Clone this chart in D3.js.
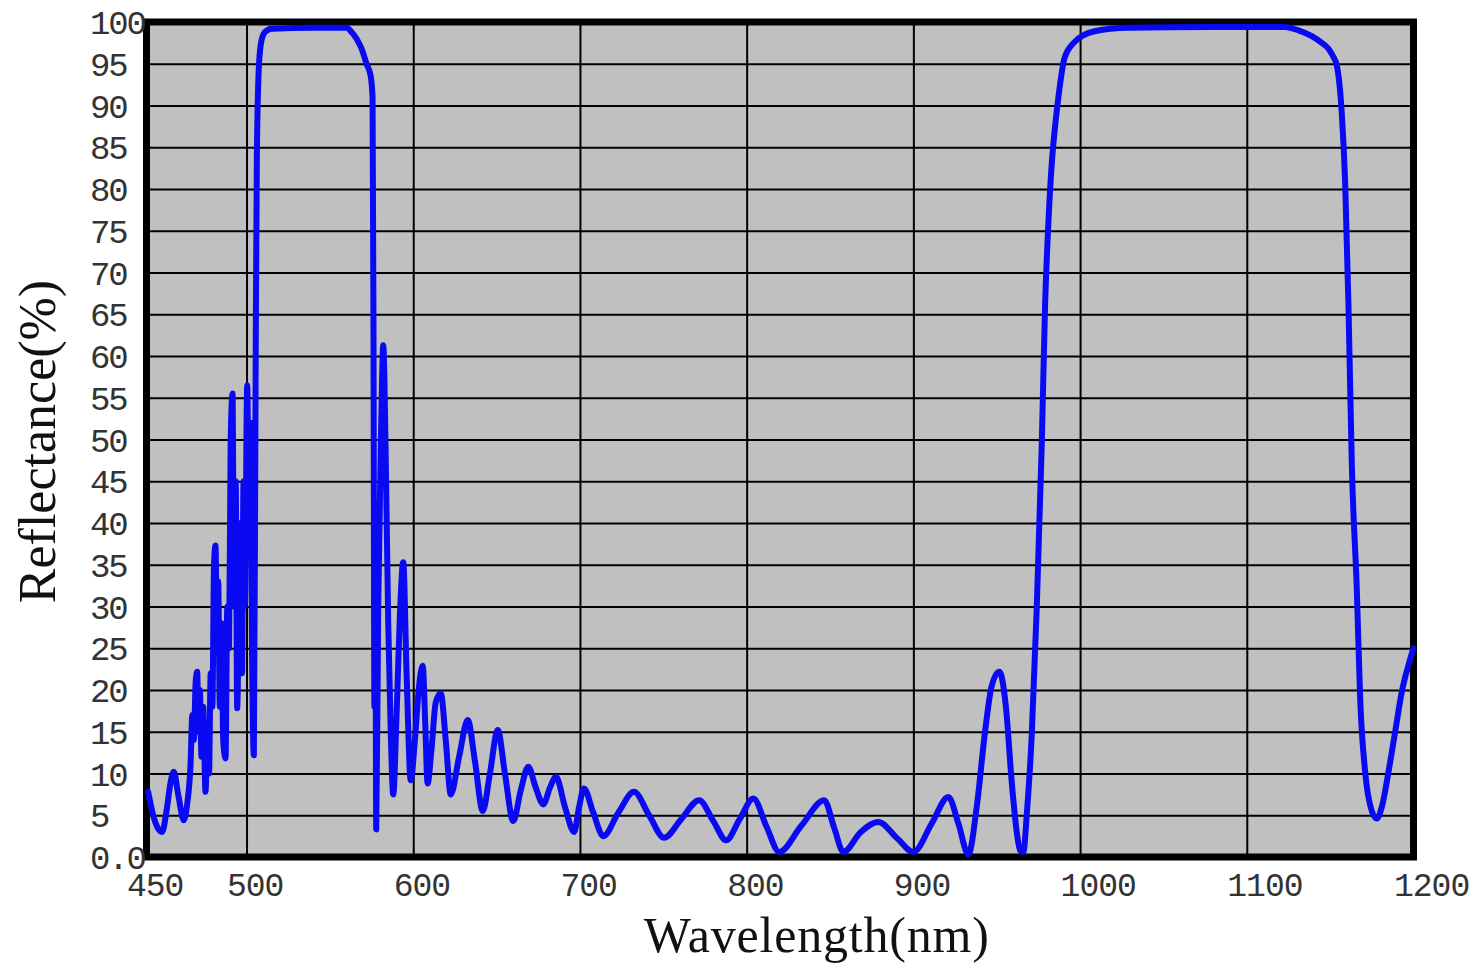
<!DOCTYPE html>
<html>
<head>
<meta charset="utf-8">
<title>Reflectance spectrum</title>
<script src="https://cdn.jsdelivr.net/npm/d3@7"></script>
<style>
  html, body { margin: 0; padding: 0; background: #ffffff; }
  svg { display: block; }
</style>
</head>
<body>
<svg id="chart" width="1476" height="967"></svg>
<script>
// Measured reflectance spectrum: wavelength (nm) and reflectance (%)
const wavelength = [
  441, 444, 447, 449.4, 452, 454.5, 456.4, 459, 462.4, 464.5, 466.4, 467.5, 468.4, 469.5, 470.4, 471.2,
  472, 473, 474, 475.4, 476.5, 477.5, 478.5, 479.5, 480.5, 481.4, 482.3, 483, 484, 485, 486, 487.4,
  488.5, 489.5, 490.5, 491.6, 492.5, 493.5, 494.4, 495.5, 496.5, 497.3, 498.2, 499, 500.4, 501.5, 502.5, 503.3,
  504.4, 505.5, 506.2, 507.5, 509, 511, 515, 540, 560, 563, 566, 569, 572, 574.5, 575.6, 576.2,
  576.7, 577.2, 577.8, 579, 580.8, 582, 583.5, 585, 586.5, 588, 590, 592, 594, 596, 598.5, 601,
  603.5, 605.7, 607.2, 608.6, 611, 613.5, 616.5, 619.5, 622.5, 627.5, 632.7, 637, 641.7, 646, 650.7, 655,
  660, 664.5, 669, 673.5, 678, 682, 685.6, 691, 696.5, 699.5, 702.4, 708, 714, 723, 732.4, 741.5,
  750.5, 761, 771.5, 780, 787.7, 796, 804, 812, 819.5, 833, 846.5, 852.5, 858, 868.5, 879, 890,
  900, 911, 921, 927, 933, 938, 943, 947, 951.6, 955.5, 959, 962, 964, 966, 968, 971,
  974, 977, 979, 981, 983, 985, 987, 990.7, 996.7, 1008.7, 1029, 1080, 1123, 1131, 1139, 1145,
  1149, 1152, 1154, 1157, 1159, 1161, 1163, 1166, 1168, 1171, 1175, 1178, 1181, 1185, 1189, 1193,
  1197, 1200
];
const reflectance = [
  7.8, 5.0, 3.4, 3.0, 5.5, 9.0, 10.2, 7.5, 4.4, 6.5, 11.0, 17.0, 14.0, 21.0, 22.2, 15.0,
  20.0, 12.0, 18.0, 7.8, 14.0, 10.0, 22.0, 18.0, 35.0, 37.3, 25.0, 33.0, 18.0, 28.0, 14.0, 11.8,
  30.0, 25.0, 50.0, 55.5, 30.0, 45.0, 17.8, 32.0, 40.0, 22.0, 45.0, 30.0, 56.5, 40.0, 52.0, 25.0,
  12.2, 60.0, 84.0, 95.0, 97.8, 98.8, 99.2, 99.3, 99.3, 98.8, 98.0, 96.8, 95.0, 93.5, 91.0, 60.0,
  18.0, 40.0, 3.3, 30.0, 52.0, 61.3, 48.0, 28.0, 15.0, 7.5, 17.0, 29.0, 35.3, 22.0, 9.2, 14.0,
  20.5, 22.9, 16.0, 8.8, 13.0, 18.5, 19.6, 14.0, 7.5, 12.0, 16.4, 11.5, 5.5, 10.0, 15.2, 10.0,
  4.3, 8.0, 10.8, 8.3, 6.3, 8.3, 9.6, 6.0, 3.0, 6.0, 8.2, 5.3, 2.5, 5.3, 7.8, 5.0,
  2.3, 4.6, 6.8, 4.3, 2.0, 4.6, 7.0, 3.6, 0.6, 3.8, 6.8, 3.5, 0.6, 3.0, 4.2, 2.3,
  0.6, 4.0, 7.2, 4.0, 0.3, 6.0, 15.0, 20.5, 22.2, 18.0, 9.0, 3.0, 0.8, 0.6, 5.0, 14.6,
  29.8, 49.3, 66.0, 76.0, 83.0, 87.5, 91.0, 95.7, 97.6, 98.9, 99.3, 99.4, 99.4, 99.0, 98.3, 97.5,
  96.8, 95.8, 94.8, 89.0, 80.8, 66.0, 47.0, 32.0, 19.0, 10.2, 5.5, 4.6, 6.0, 10.2, 15.0, 19.8,
  23.0, 25.0
];

// Axis ticks
const xTickValues = [500, 600, 700, 800, 900, 1000, 1100, 1200];
const xEdgeLabel = "450";          // label printed at the left edge of the wavelength axis
const yTickValues = d3.range(0, 101, 5);
const xTitle = "Wavelength(nm)";
const yTitle = "Reflectance(%)";

const svg = d3.select("#chart");
const W = 1476, H = 967;
const plot = { left: 146.5, right: 1413.5, top: 22, bottom: 857 };

const x = d3.scaleLinear().domain([440, 1200]).range([plot.left, plot.right]);
const y = d3.scaleLinear().domain([0, 100]).range([plot.bottom, plot.top]);

svg.append("rect").attr("width", W).attr("height", H).attr("fill", "#ffffff");

// plot background
svg.append("rect")
  .attr("x", plot.left).attr("y", plot.top)
  .attr("width", plot.right - plot.left).attr("height", plot.bottom - plot.top)
  .attr("fill", "#c0c0c0");

// grid lines
const gridY = svg.append("g")
  .attr("transform", `translate(${plot.left},0)`)
  .call(d3.axisLeft(y).tickValues(yTickValues.filter(v => v > 0 && v < 100))
    .tickSize(-(plot.right - plot.left)).tickFormat(""));
gridY.select(".domain").remove();
gridY.selectAll(".tick line").attr("stroke", "#000").attr("stroke-width", 2);

const gridX = svg.append("g")
  .attr("transform", `translate(0,${plot.bottom})`)
  .call(d3.axisBottom(x).tickValues(xTickValues.filter(v => v < 1200))
    .tickSize(-(plot.bottom - plot.top)).tickFormat(""));
gridX.select(".domain").remove();
gridX.selectAll(".tick line").attr("stroke", "#000").attr("stroke-width", 2);

// frame
svg.append("rect")
  .attr("x", plot.left).attr("y", plot.top)
  .attr("width", plot.right - plot.left).attr("height", plot.bottom - plot.top)
  .attr("fill", "none").attr("stroke", "#000").attr("stroke-width", 7);

// spectrum curve
const points = wavelength.map((w, i) => [w, reflectance[i]]);
const line = d3.line()
  .x(d => x(d[0]))
  .y(d => y(d[1]))
  .curve(d3.curveMonotoneX);

svg.append("path")
  .datum(points)
  .attr("d", line)
  .attr("fill", "none")
  .attr("stroke", "#0a0af2")
  .attr("stroke-width", 6)
  .attr("stroke-linejoin", "round")
  .attr("stroke-linecap", "round");

// tick labels
const tickFont = "'Liberation Mono', 'DejaVu Sans Mono', monospace";

const yLab = svg.append("g")
  .attr("transform", "translate(90,0)")
  .call(d3.axisLeft(y).tickValues(yTickValues).tickSize(0).tickPadding(0)
    .tickFormat(v => v === 0 ? "0.0" : String(v)));
yLab.select(".domain").remove();
yLab.selectAll("text")
  .attr("x", 0).attr("dy", "0.34em")
  .attr("text-anchor", "start")
  .attr("font-family", tickFont).attr("font-size", 34)
  .attr("letter-spacing", -2.2)
  .attr("fill", "#333");

const xLabels = [{ text: xEdgeLabel, pos: x.range()[0] }]
  .concat(xTickValues.map(v => ({ text: String(v), pos: x(v) })));

svg.append("g").selectAll("text")
  .data(xLabels)
  .join("text")
  .attr("x", d => d.pos - 19.5)
  .attr("y", 896)
  .attr("text-anchor", "start")
  .attr("font-family", tickFont).attr("font-size", 33)
  .attr("letter-spacing", -1.0)
  .attr("fill", "#333")
  .text(d => d.text);

// axis titles
const titleFont = "'Liberation Serif', 'Times New Roman', serif";
svg.append("text")
  .attr("x", plot.left + (plot.right - plot.left) * 0.529)
  .attr("y", 952)
  .attr("text-anchor", "middle")
  .attr("font-family", titleFont).attr("font-size", 50)
  .attr("letter-spacing", 0.8)
  .attr("fill", "#111")
  .text(xTitle);

svg.append("text")
  .attr("transform", `translate(55,${(plot.top + plot.bottom) / 2 + 2}) rotate(-90)`)
  .attr("text-anchor", "middle")
  .attr("font-family", titleFont).attr("font-size", 52)
  .attr("fill", "#111")
  .text(yTitle);
</script>
</body>
</html>
